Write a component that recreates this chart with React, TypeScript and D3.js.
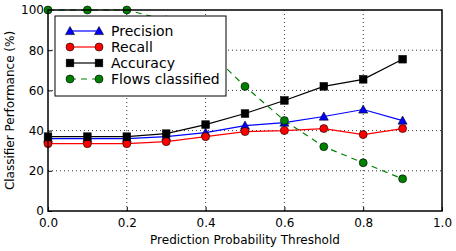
import React, { useEffect, useRef } from 'react';
import * as d3 from 'd3';

const thresholds = [0.0, 0.1, 0.2, 0.3, 0.4, 0.5, 0.6, 0.7, 0.8, 0.9];
const precision = [36, 36, 36, 37, 39, 42.5, 44, 47, 50.5, 45];
const recall = [33.5, 33.5, 33.5, 34.5, 37, 39.5, 40, 41, 38, 41];
const accuracy = [37, 37, 37, 38.5, 43, 48.5, 55, 62, 65.5, 75.5];
const flowsClassified = [100, 100, 100, 95, 81, 62, 45, 32, 24, 16];
const xTicks = [0, 0.2, 0.4, 0.6, 0.8, 1.0];
const yTicks = [0, 20, 40, 60, 80, 100];

const seriesList = [
  { name: 'Precision', values: precision, color: 'blue', marker: 'triangle', dash: null },
  { name: 'Recall', values: recall, color: 'red', marker: 'circle', dash: null },
  { name: 'Accuracy', values: accuracy, color: 'black', marker: 'square', dash: null },
  { name: 'Flows classified', values: flowsClassified, color: 'green', marker: 'circle', dash: '6,5' },
];

const App = () => {
  const ref = useRef<HTMLDivElement>(null);

  useEffect(() => {
    const W = 456, H = 251;
    const margin = { top: 10, right: 14, bottom: 40, left: 48 };
    const width = W - margin.left - margin.right;
    const height = H - margin.top - margin.bottom;

    d3.select(ref.current).selectAll('*').remove();

    const root = d3.select(ref.current)
      .append('svg')
      .attr('width', W)
      .attr('height', H)
      .style('display', 'block')
      .style('font-family', 'DejaVu Sans, sans-serif');

    root.append('rect').attr('width', W).attr('height', H).attr('fill', 'white');

    const svg = root.append('g')
      .attr('transform', `translate(${margin.left},${margin.top})`);

    const x = d3.scaleLinear().domain([0, 1]).range([0, width]);
    const y = d3.scaleLinear().domain([0, 100]).range([height, 0]);

    // grid
    svg.append('g').selectAll('line')
      .data(xTicks.slice(1, -1))
      .enter().append('line')
      .attr('x1', d => x(d)).attr('x2', d => x(d))
      .attr('y1', 0).attr('y2', height)
      .attr('stroke', 'black').attr('stroke-width', 0.8)
      .attr('stroke-dasharray', '1,3');
    svg.append('g').selectAll('line')
      .data(yTicks.slice(1, -1))
      .enter().append('line')
      .attr('x1', 0).attr('x2', width)
      .attr('y1', d => y(d)).attr('y2', d => y(d))
      .attr('stroke', 'black').attr('stroke-width', 0.8)
      .attr('stroke-dasharray', '1,3');

    // axes
    const xAxis = svg.append('g')
      .attr('transform', `translate(0,${height})`)
      .call(d3.axisBottom(x).tickValues(xTicks).tickFormat(d3.format('.1f')).tickSizeInner(-4).tickSizeOuter(0).tickPadding(7));
    const yAxis = svg.append('g')
      .call(d3.axisLeft(y).tickValues(yTicks).tickSizeInner(-4).tickSizeOuter(0).tickPadding(4));
    [xAxis, yAxis].forEach(a => {
      a.select('.domain').remove();
      a.selectAll('text').attr('font-size', 12).attr('fill', 'black').attr('font-family', 'DejaVu Sans, sans-serif');
      a.selectAll('line').attr('stroke', 'black');
    });

    const line = d3.line<number>()
      .x((_, i) => x(thresholds[i]))
      .y(d => y(d));

    const drawMarker = (g: any, kind: string, cx: number, cy: number, color: string) => {
      if (kind === 'circle') {
        g.append('circle').attr('cx', cx).attr('cy', cy).attr('r', 4)
          .attr('fill', color).attr('stroke', 'black').attr('stroke-width', 0.6);
      } else if (kind === 'square') {
        g.append('rect').attr('x', cx - 3.8).attr('y', cy - 3.8).attr('width', 7.6).attr('height', 7.6)
          .attr('fill', color).attr('stroke', 'black').attr('stroke-width', 0.6);
      } else {
        const s = 4.5;
        g.append('path')
          .attr('d', `M${cx},${cy - s}L${cx + s},${cy + s * 0.8}L${cx - s},${cy + s * 0.8}Z`)
          .attr('fill', color).attr('stroke', 'black').attr('stroke-width', 0.6);
      }
    };

    const plot = svg.append('g');
    seriesList.forEach(s => {
      plot.append('path')
        .datum(s.values)
        .attr('d', line)
        .attr('fill', 'none')
        .attr('stroke', s.color)
        .attr('stroke-width', 1.2)
        .attr('stroke-dasharray', s.dash);
      const mg = plot.append('g');
      s.values.forEach((v, i) => drawMarker(mg, s.marker, x(thresholds[i]), y(v), s.color));
    });

    // frame
    svg.append('rect')
      .attr('width', width).attr('height', height)
      .attr('fill', 'none').attr('stroke', 'black').attr('stroke-width', 1.5);

    // legend
    const lg = svg.append('g').attr('transform', 'translate(7,6)');
    lg.append('rect').attr('width', 171).attr('height', 80)
      .attr('fill', 'white').attr('stroke', 'black').attr('stroke-width', 1);
    seriesList.forEach((s, i) => {
      const cy = 15 + i * 16;
      lg.append('line').attr('x1', 15).attr('x2', 44).attr('y1', cy).attr('y2', cy)
        .attr('stroke', s.color).attr('stroke-width', 1.2).attr('stroke-dasharray', s.dash);
      drawMarker(lg, s.marker, 15, cy, s.color);
      drawMarker(lg, s.marker, 44, cy, s.color);
      lg.append('text').attr('x', 56).attr('y', cy + 5)
        .attr('font-size', 14).attr('fill', 'black').text(s.name);
    });

    // axis labels
    root.append('text')
      .attr('x', margin.left + width / 2).attr('y', 243.5)
      .attr('text-anchor', 'middle').attr('font-size', 12).text('Prediction Probability Threshold');
    root.append('text')
      .attr('transform', `translate(14,${margin.top + height / 2}) rotate(-90)`)
      .attr('text-anchor', 'middle').attr('font-size', 12).text('Classifier Performance (%)');
  }, []);

  return <div ref={ref} style={{ position: 'absolute', left: 0, top: 0 }}></div>;
};

export default App;
